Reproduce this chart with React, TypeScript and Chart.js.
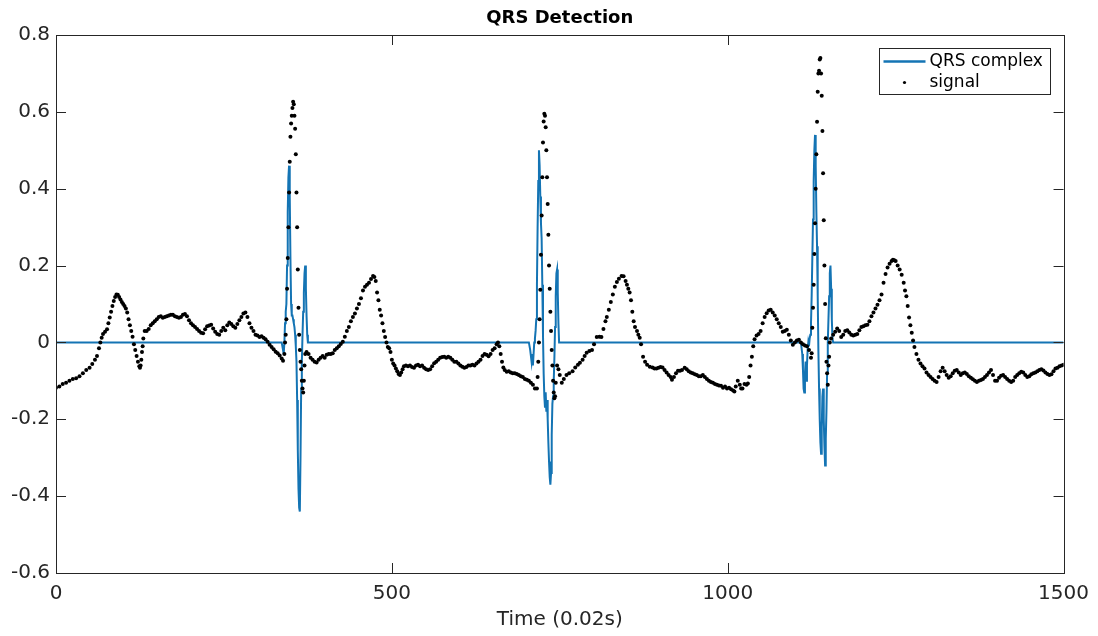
import React, { useEffect, useRef } from "react";
import { Chart, registerables } from "chart.js";

Chart.register(...registerables);

// ---- data ----
const xTicks = [0, 500, 1000, 1500];
const yTicks = [-0.6, -0.4, -0.2, 0, 0.2, 0.4, 0.6, 0.8];

// ECG signal samples [time index, amplitude]
const signalBeat0: [number, number][] = [
  [0, -0.118], [5, -0.115], [10, -0.108], [15, -0.105], [20, -0.1], [25, -0.095], [30, -0.093], [35, -0.088],
  [40, -0.08], [45, -0.072], [50, -0.066], [54, -0.056], [58, -0.045], [61, -0.035], [64, -0.015], [66, 0.0],
  [68, 0.012], [70, 0.022], [73, 0.028], [76, 0.034], [78, 0.05], [80, 0.065], [82, 0.08], [84, 0.095],
  [86, 0.108], [88, 0.118], [90, 0.125], [92, 0.124], [94, 0.118], [96, 0.112], [98, 0.105], [100, 0.1],
  [102, 0.095], [104, 0.088], [106, 0.078], [108, 0.06], [110, 0.045], [112, 0.03], [114, 0.015], [116, -0.005],
  [118, -0.02], [120, -0.035], [122, -0.05], [124, -0.062], [125, -0.066], [126, -0.06], [127, -0.045],
  [128, -0.025], [129, -0.01], [130, 0.01], [132, 0.03], [135, 0.03], [138, 0.035], [141, 0.045], [144, 0.05],
  [147, 0.055], [150, 0.06], [153, 0.066], [156, 0.068], [159, 0.064], [162, 0.066], [165, 0.068], [168, 0.07],
  [171, 0.072], [174, 0.072], [177, 0.068], [180, 0.066], [183, 0.064], [186, 0.066], [189, 0.072], [192, 0.074],
  [195, 0.068], [198, 0.058], [201, 0.05], [204, 0.045], [207, 0.04], [210, 0.035], [213, 0.03], [216, 0.025],
  [219, 0.024], [222, 0.034], [225, 0.042], [228, 0.044], [231, 0.046], [234, 0.036], [237, 0.028], [240, 0.022],
  [243, 0.02], [246, 0.03], [249, 0.038], [252, 0.032], [255, 0.045], [258, 0.052], [261, 0.048], [264, 0.042],
  [267, 0.038], [270, 0.048], [273, 0.058], [276, 0.066], [279, 0.075], [282, 0.078], [285, 0.066], [288, 0.05],
  [291, 0.038], [294, 0.03], [297, 0.02], [300, 0.018], [303, 0.014], [306, 0.016], [309, 0.012], [312, 0.008],
  [315, 0.002], [318, -0.006], [321, -0.012], [324, -0.018], [327, -0.024], [330, -0.028], [333, -0.034],
  [336, -0.042], [338, -0.048], [340, -0.03],
];

const signalBeat1: [number, number][] = [
  [341, 0.0], [342, 0.02], [343, 0.06], [344, 0.14], [345, 0.22], [346, 0.3], [347, 0.39], [348, 0.47],
  [349, 0.535], [350, 0.57], [351, 0.59], [352, 0.61], [353, 0.626], [354, 0.62], [355, 0.59], [356, 0.556],
  [357, 0.49], [358, 0.39], [359, 0.3], [360, 0.19], [361, 0.09], [362, 0.02], [363, -0.02], [364, -0.05],
  [365, -0.07], [366, -0.1], [367, -0.12], [368, -0.13], [369, -0.1], [370, -0.06], [371, -0.03], [373, -0.025],
  [376, -0.03], [379, -0.04], [382, -0.045], [385, -0.05], [388, -0.052], [391, -0.045], [394, -0.04],
  [397, -0.035], [400, -0.04], [403, -0.032], [406, -0.03], [409, -0.03], [412, -0.028], [415, -0.02],
  [418, -0.015], [421, -0.01], [424, -0.004], [427, 0.002], [430, 0.015], [433, 0.03], [436, 0.04], [439, 0.055],
  [442, 0.066], [445, 0.075], [448, 0.088], [451, 0.1], [454, 0.115], [457, 0.135], [460, 0.145], [463, 0.15],
  [466, 0.155], [469, 0.165], [472, 0.173], [474, 0.17], [476, 0.16], [478, 0.13], [480, 0.11], [482, 0.085],
  [484, 0.07], [486, 0.05], [488, 0.03], [490, 0.014], [492, 0.0], [494, -0.012], [496, -0.015], [498, -0.025],
  [500, -0.045], [502, -0.055], [504, -0.06], [506, -0.068], [508, -0.075], [510, -0.082], [512, -0.085],
  [514, -0.078], [516, -0.07], [518, -0.062], [521, -0.06], [524, -0.062], [527, -0.06], [530, -0.064],
  [533, -0.066], [536, -0.06], [539, -0.058], [542, -0.062], [545, -0.06], [548, -0.066], [551, -0.07],
  [554, -0.072], [557, -0.07], [560, -0.062], [563, -0.054], [566, -0.05], [569, -0.045], [572, -0.04],
  [575, -0.038], [578, -0.037], [581, -0.04], [584, -0.037], [587, -0.04], [590, -0.045], [593, -0.05],
  [596, -0.05], [599, -0.055], [602, -0.06], [605, -0.063], [608, -0.066], [611, -0.064], [614, -0.06],
  [617, -0.06], [620, -0.058], [623, -0.06], [626, -0.055], [629, -0.05], [632, -0.045], [635, -0.035],
  [638, -0.03], [641, -0.032], [644, -0.036], [647, -0.03], [650, -0.02], [653, -0.015], [656, -0.005],
  [658, 0.0], [660, -0.01], [662, -0.03], [664, -0.05], [666, -0.065], [668, -0.072], [671, -0.076],
  [674, -0.075], [677, -0.078], [680, -0.08], [683, -0.08], [686, -0.082], [689, -0.085], [692, -0.088],
  [695, -0.09], [698, -0.095], [701, -0.097], [704, -0.1], [707, -0.105], [710, -0.11], [713, -0.12],
];

const signalBeat2: [number, number][] = [
  [716, -0.12], [717, -0.09], [718, -0.05], [719, 0.0], [720, 0.06], [721, 0.137], [722, 0.228], [723, 0.33],
  [724, 0.43], [725, 0.52], [726, 0.575], [727, 0.595], [728, 0.59], [729, 0.56], [730, 0.5], [731, 0.43],
  [732, 0.36], [733, 0.28], [734, 0.2], [735, 0.14], [736, 0.08], [737, 0.03], [738, -0.02], [739, -0.06],
  [740, -0.1], [741, -0.13], [742, -0.145], [743, -0.14], [744, -0.105], [746, -0.06], [748, -0.07],
  [750, -0.085], [753, -0.105], [756, -0.095], [760, -0.085], [764, -0.08], [769, -0.075], [773, -0.065],
  [777, -0.058], [780, -0.053], [784, -0.045], [787, -0.035], [790, -0.027], [794, -0.022], [798, -0.02],
  [801, -0.005], [805, 0.014], [809, 0.015], [812, 0.014], [815, 0.035], [818, 0.055], [820, 0.066],
  [823, 0.085], [826, 0.105], [829, 0.125], [832, 0.145], [835, 0.157], [838, 0.166], [842, 0.173],
  [845, 0.172], [848, 0.16], [850, 0.15], [852, 0.14], [854, 0.13], [856, 0.11], [858, 0.08], [860, 0.055],
  [862, 0.04], [865, 0.03], [867, 0.02], [869, 0.012], [871, -0.005], [874, -0.037], [877, -0.05], [880, -0.058],
  [884, -0.063], [888, -0.065], [891, -0.068], [894, -0.068], [897, -0.066], [900, -0.064], [903, -0.065],
  [906, -0.072], [909, -0.078], [912, -0.085], [915, -0.09], [917, -0.097], [920, -0.09], [923, -0.08],
  [926, -0.074], [929, -0.074], [932, -0.072], [936, -0.066], [939, -0.07], [942, -0.075], [945, -0.078],
  [948, -0.08], [951, -0.083], [954, -0.085], [957, -0.088], [960, -0.088], [963, -0.085], [966, -0.09],
  [969, -0.095], [972, -0.1], [975, -0.103], [978, -0.105], [981, -0.108], [984, -0.11], [987, -0.112],
  [990, -0.113], [993, -0.118], [996, -0.115], [999, -0.12], [1002, -0.118], [1005, -0.122], [1008, -0.125],
  [1010, -0.128], [1012, -0.115], [1015, -0.1], [1018, -0.11], [1020, -0.12], [1022, -0.12], [1025, -0.108],
  [1028, -0.11], [1030, -0.107], [1032, -0.09], [1034, -0.06], [1036, -0.037], [1038, -0.01], [1040, 0.008],
  [1043, 0.018], [1046, 0.022], [1049, 0.03], [1052, 0.05], [1055, 0.066], [1058, 0.076], [1061, 0.083],
  [1064, 0.085], [1067, 0.078], [1070, 0.07], [1073, 0.06], [1076, 0.05], [1079, 0.04], [1082, 0.028],
  [1085, 0.03], [1088, 0.033], [1091, 0.02], [1094, 0.005], [1097, -0.006], [1100, 0.0], [1103, 0.005],
  [1106, 0.007], [1109, 0.0], [1112, -0.005], [1115, -0.008], [1118, -0.01], [1121, -0.02], [1124, -0.04],
];

const signalBeat3: [number, number][] = [
  [1125, -0.028], [1126, 0.038], [1127, 0.09], [1128, 0.15], [1129, 0.23], [1130, 0.31], [1131, 0.4],
  [1132, 0.49], [1133, 0.574], [1134, 0.652], [1135, 0.7], [1136, 0.707], [1137, 0.736], [1138, 0.74],
  [1139, 0.7], [1140, 0.642], [1141, 0.55], [1142, 0.44], [1143, 0.318], [1144, 0.2], [1145, 0.1],
  [1146, 0.011], [1147, -0.05], [1148, -0.08], [1149, -0.11], [1150, -0.06], [1151, -0.037], [1152, 0.0],
  [1154, 0.01], [1157, 0.02], [1160, 0.028], [1163, 0.036], [1166, 0.03], [1169, 0.014], [1172, 0.02],
  [1175, 0.03], [1178, 0.032], [1181, 0.026], [1184, 0.02], [1187, 0.018], [1190, 0.02], [1193, 0.022],
  [1196, 0.032], [1199, 0.04], [1202, 0.042], [1205, 0.045], [1208, 0.046], [1211, 0.055], [1214, 0.068],
  [1217, 0.078], [1220, 0.088], [1223, 0.098], [1226, 0.11], [1229, 0.125], [1232, 0.155], [1235, 0.178],
  [1238, 0.195], [1241, 0.205], [1244, 0.212], [1246, 0.215], [1248, 0.214], [1250, 0.212], [1253, 0.2],
  [1256, 0.19], [1259, 0.176], [1262, 0.155], [1264, 0.135], [1266, 0.12], [1268, 0.095], [1270, 0.065],
  [1272, 0.045], [1274, 0.025], [1276, 0.005], [1278, -0.012], [1281, -0.03], [1284, -0.045], [1287, -0.055],
  [1290, -0.062], [1293, -0.068], [1296, -0.078], [1299, -0.085], [1302, -0.09], [1305, -0.095], [1308, -0.1],
  [1311, -0.103], [1314, -0.09], [1317, -0.075], [1320, -0.066], [1323, -0.075], [1326, -0.085], [1329, -0.092],
  [1332, -0.088], [1335, -0.08], [1338, -0.074], [1341, -0.072], [1344, -0.078], [1347, -0.085], [1350, -0.08],
  [1353, -0.078], [1356, -0.082], [1359, -0.088], [1362, -0.092], [1365, -0.096], [1368, -0.1], [1371, -0.103],
  [1374, -0.1], [1377, -0.098], [1380, -0.095], [1383, -0.09], [1386, -0.085], [1389, -0.078], [1392, -0.072],
  [1395, -0.085], [1398, -0.1], [1401, -0.1], [1404, -0.092], [1407, -0.087], [1410, -0.085], [1413, -0.09],
  [1416, -0.095], [1419, -0.1], [1422, -0.103], [1425, -0.1], [1428, -0.09], [1431, -0.085], [1434, -0.08],
  [1437, -0.076], [1440, -0.078], [1443, -0.085], [1446, -0.09], [1449, -0.088], [1452, -0.083], [1455, -0.08],
  [1458, -0.078], [1461, -0.075], [1464, -0.072], [1467, -0.07], [1470, -0.073], [1473, -0.078], [1476, -0.082],
  [1479, -0.085], [1482, -0.083], [1485, -0.075], [1488, -0.068], [1491, -0.066], [1494, -0.062], [1497, -0.06],
  [1500, -0.058],
];

// QRS complex (filtered output): zero except around the three beats
const qrsBeat1: [number, number][] = [
  [0, 0], [336, 0], [338, -0.02], [339, -0.03], [340, 0.0], [341, 0.05], [342, 0.08], [343, 0.1], [344, 0.2],
  [345, 0.34], [346, 0.43], [347, 0.46], [348, 0.38], [349, 0.22], [350, 0.1], [351, 0.07], [352, 0.07],
  [353, 0.06], [354, 0.05], [355, 0.04], [356, 0.02], [357, -0.01], [358, -0.05], [359, -0.15], [360, -0.28],
  [361, -0.38], [362, -0.43], [363, -0.44], [364, -0.3], [365, -0.12], [366, -0.05], [367, 0.02], [368, 0.08],
  [369, 0.13], [370, 0.18], [371, 0.2], [372, 0.14], [373, 0.07], [374, 0.02], [375, 0],
];
const qrsBeat2: [number, number][] = [
  [704, 0], [706, -0.02], [708, -0.05], [709, -0.03], [710, -0.06], [711, -0.03], [712, 0.0], [713, 0.01],
  [714, 0.03], [715, 0.06], [716, 0.15], [717, 0.3], [718, 0.42], [719, 0.5], [720, 0.46], [721, 0.38],
  [722, 0.31], [723, 0.27], [724, 0.15], [725, 0.02], [726, -0.08], [727, -0.14], [728, -0.17], [729, -0.13],
  [730, -0.18], [731, -0.15], [732, -0.2], [733, -0.26], [734, -0.31], [735, -0.35], [736, -0.37], [737, -0.34],
  [738, -0.24], [739, -0.16], [740, -0.14], [741, -0.1], [742, -0.04], [743, 0.04], [744, 0.12], [745, 0.18],
  [746, 0.19], [747, 0.13], [748, 0.05], [749, 0],
];
const qrsBeat3: [number, number][] = [
  [1109, 0], [1111, -0.03], [1112, -0.07], [1113, -0.12], [1114, -0.13], [1115, -0.08], [1116, -0.05],
  [1117, -0.1], [1118, -0.06], [1119, -0.02], [1120, 0.0], [1121, -0.01], [1122, 0.01], [1123, 0.02],
  [1124, 0.05], [1125, 0.12], [1126, 0.22], [1127, 0.32], [1128, 0.42], [1129, 0.5], [1130, 0.54], [1131, 0.46],
  [1132, 0.34], [1133, 0.25], [1134, 0.12], [1135, -0.02], [1136, -0.12], [1137, -0.2], [1138, -0.26],
  [1139, -0.29], [1140, -0.22], [1141, -0.14], [1142, -0.12], [1143, -0.2], [1144, -0.27], [1145, -0.32],
  [1146, -0.25], [1147, -0.18], [1148, -0.08], [1149, 0.0], [1150, 0.06], [1151, 0.12], [1152, 0.18],
  [1153, 0.2], [1154, 0.14], [1155, 0.06], [1156, 0.01], [1157, 0], [1500, 0],
];

const QRS_COLOR = "#1474b4";
const AXIS_COLOR = "#262626";
const FONT = "'DejaVu Sans', sans-serif";

const framePlugin = {
  id: "matlabFrame",
  afterDatasetsDraw(chart: any) {
    const { ctx, chartArea: a, scales } = chart;
    const x = scales.x;
    const y = scales.y;
    ctx.save();
    ctx.strokeStyle = AXIS_COLOR;
    ctx.lineWidth = 1;
    ctx.strokeRect(Math.round(a.left) + 0.5, Math.round(a.top) + 0.5, Math.round(a.right - a.left), Math.round(a.bottom - a.top));
    const tl = 10;
    ctx.beginPath();
    xTicks.forEach((v) => {
      const px = Math.round(x.getPixelForValue(v)) + 0.5;
      ctx.moveTo(px, a.bottom);
      ctx.lineTo(px, a.bottom - tl);
      ctx.moveTo(px, a.top);
      ctx.lineTo(px, a.top + tl);
    });
    yTicks.forEach((v) => {
      const py = Math.round(y.getPixelForValue(v)) + 0.5;
      ctx.moveTo(a.left, py);
      ctx.lineTo(a.left + tl, py);
      ctx.moveTo(a.right, py);
      ctx.lineTo(a.right - tl, py);
    });
    ctx.stroke();

    // title
    ctx.fillStyle = "#000";
    ctx.font = `bold 18px ${FONT}`;
    ctx.textAlign = "center";
    ctx.textBaseline = "middle";
    ctx.fillText("QRS Detection", (a.left + a.right) / 2, 18);

    // legend
    const bw = 171;
    const bh = 46;
    const bx = Math.round(a.right - 14 - bw) + 0.5;
    const by = Math.round(a.top + 13) + 0.5;
    ctx.fillStyle = "#fff";
    ctx.fillRect(bx, by, bw, bh);
    ctx.strokeStyle = AXIS_COLOR;
    ctx.lineWidth = 1;
    ctx.strokeRect(bx, by, bw, bh);
    ctx.strokeStyle = QRS_COLOR;
    ctx.lineWidth = 2.5;
    ctx.beginPath();
    ctx.moveTo(bx + 4, by + 13);
    ctx.lineTo(bx + 46, by + 13);
    ctx.stroke();
    ctx.fillStyle = "#000";
    ctx.beginPath();
    ctx.arc(bx + 25, by + 34, 1.6, 0, Math.PI * 2);
    ctx.fill();
    ctx.font = `17px ${FONT}`;
    ctx.textAlign = "left";
    ctx.textBaseline = "middle";
    ctx.fillText("QRS complex", bx + 50, by + 13);
    ctx.fillText("signal", bx + 50, by + 34);
    ctx.restore();
  },
};

export default function App() {
  const canvasRef = useRef<HTMLCanvasElement | null>(null);

  useEffect(() => {
    if (!canvasRef.current) return;
    const toXY = (arr: [number, number][]) => arr.map(([t, v]) => ({ x: t, y: v }));
    const signal = [...signalBeat0, ...signalBeat1, ...signalBeat2, ...signalBeat3];
    const qrs = [...qrsBeat1, ...qrsBeat2, ...qrsBeat3];
    const chart = new Chart(canvasRef.current, {
      type: "line",
      data: {
        datasets: [
          {
            label: "signal",
            data: toXY(signal),
            showLine: false,
            pointRadius: 2,
            pointBorderWidth: 0,
            pointBackgroundColor: "#000",
            borderColor: "#000",
            order: 0,
          },
          {
            label: "QRS complex",
            data: toXY(qrs),
            borderColor: QRS_COLOR,
            borderWidth: 2,
            pointRadius: 0,
            tension: 0,
            order: 1,
          },
        ],
      },
      options: {
        animation: false,
        responsive: true,
        maintainAspectRatio: false,
        layout: { padding: { left: 0, right: 34, top: 35, bottom: 0 } },
        plugins: { legend: { display: false }, tooltip: { enabled: false }, title: { display: false } },
        scales: {
          x: {
            type: "linear",
            min: 0,
            max: 1500,
            grid: { display: false, drawTicks: false },
            border: { display: false },
            afterFit: (s: any) => {
              s.height = 63;
            },
            afterBuildTicks: (s: any) => {
              s.ticks = xTicks.map((v) => ({ value: v }));
            },
            ticks: {
              color: AXIS_COLOR,
              font: { family: FONT, size: 20 },
              padding: 9,
              maxRotation: 0,
              autoSkip: false,
              callback: (v: any) => String(v),
            },
            title: {
              display: true,
              text: "Time (0.02s)",
              color: AXIS_COLOR,
              font: { family: FONT, size: 20 },
              padding: { top: 0, bottom: 4 },
            },
          },
          y: {
            type: "linear",
            min: -0.6,
            max: 0.8,
            grid: { display: false, drawTicks: false },
            border: { display: false },
            afterFit: (s: any) => {
              s.width = 56;
            },
            afterBuildTicks: (s: any) => {
              s.ticks = yTicks.map((v) => ({ value: v }));
            },
            ticks: {
              color: AXIS_COLOR,
              font: { family: FONT, size: 20 },
              padding: 6,
              callback: (v: any) => String(Number(Number(v).toFixed(1))),
            },
          },
        },
      },
      plugins: [framePlugin],
    });
    return () => chart.destroy();
  }, []);

  return (
    <div style={{ position: "fixed", left: 0, top: 0, width: 1098, height: 636, background: "#fff" }}>
      <canvas ref={canvasRef} />
    </div>
  );
}
